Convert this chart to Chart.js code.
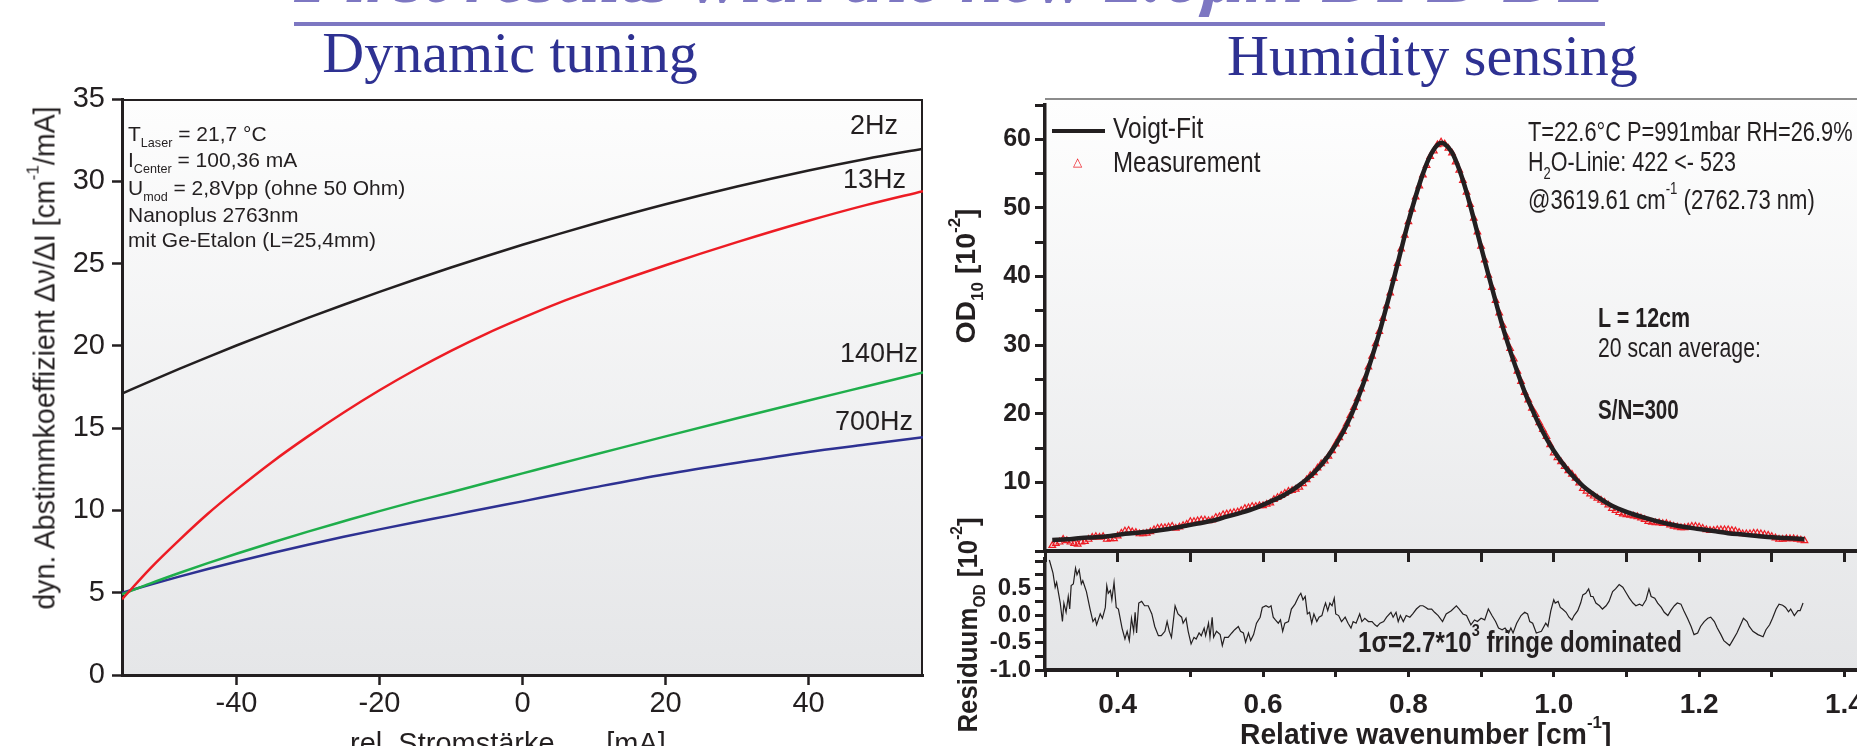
<!DOCTYPE html>
<html>
<head>
<meta charset="utf-8">
<script src="https://cdn.jsdelivr.net/npm/chart.js@4.4.1/dist/chart.umd.min.js"></script>
<style>
  html, body { margin: 0; padding: 0; background: #fff; }
  body { width: 1857px; height: 746px; overflow: hidden; position: relative;
         font-family: 'Liberation Sans', Arial, sans-serif; color: #231f20; }
  .a { position: absolute; white-space: nowrap; line-height: 1; }
  .sq { transform-origin: 0 0; }
  .s { font-family: 'Liberation Serif', 'Times New Roman', serif; }
  .b { font-weight: bold; }
  sup { font-size: 0.6em; vertical-align: 0.9em; line-height: 0; }
  sub { font-size: 0.6em; vertical-align: -0.5em; line-height: 0; }
  .bg { position: absolute; box-sizing: border-box; }
  canvas { position: absolute; }
</style>
</head>
<body>

<!-- plot backgrounds -->
<div class="bg" style="left:122px;top:99px;width:801px;height:576px;background:linear-gradient(#fdfdfd,#e5e6e8);border-top:2px solid #231f20;border-right:2px solid #231f20"></div>
<div class="bg" style="left:1045px;top:98px;width:812px;height:572px;background:linear-gradient(#fefefe,#e4e5e7);border-top:2px solid #8c8c8c"></div>

<canvas id="tuning" width="930" height="746" style="left:0;top:0"></canvas>
<canvas id="residual" width="1000" height="206" style="left:930px;top:540px"></canvas>
<canvas id="spectrum" width="1000" height="570" style="left:930px;top:0"></canvas>

<!-- slide titles -->
<div class="a s sq" data-w="1311" style="left:294px;top:-58px;font-size:72px;font-style:italic;font-weight:bold;color:#7d77c2">First results with the new 2.6µm DFB-DL</div>
<div style="position:absolute;left:294px;top:22px;width:1311px;height:4px;background:#7d77c2"></div>
<div class="a s" style="left:310px;width:400px;text-align:center;top:24px;font-size:58px;color:#2e3192">Dynamic tuning</div>
<div class="a s" style="left:1227px;width:400px;text-align:center;top:27px;font-size:58px;color:#2e3192">Humidity sensing</div>

<!-- left chart texts -->
<div class="a" style="left:128px;top:123px;font-size:21px">T<sub>Laser</sub> = 21,7 °C</div>
<div class="a" style="left:128px;top:149px;font-size:21px">I<sub>Center</sub> = 100,36 mA</div>
<div class="a" style="left:128px;top:177px;font-size:21px">U<sub>mod</sub> = 2,8Vpp (ohne 50 Ohm)</div>
<div class="a" style="left:128px;top:204px;font-size:21px">Nanoplus 2763nm</div>
<div class="a" style="left:128px;top:229px;font-size:21px">mit Ge-Etalon (L=25,4mm)</div>

<div class="a" style="left:850px;top:112px;font-size:27px">2Hz</div>
<div class="a" style="left:843px;top:166px;font-size:27px">13Hz</div>
<div class="a" style="left:840px;top:340px;font-size:27px">140Hz</div>
<div class="a" style="left:835px;top:408px;font-size:27px">700Hz</div>

<div class="a" data-w="503" data-pre="translate(-50%,-50%) rotate(-90deg)" style="left:45px;top:358px;font-size:29px">dyn. Abstimmkoeffizient Δν/ΔI [cm<sup>-1</sup>/mA]</div>
<div class="a" style="left:350px;top:729px;font-size:29px">rel. Stromstärke<sub>Laser</sub> [mA]</div>

<!-- right chart texts -->
<div style="position:absolute;left:1052px;top:129px;width:53px;height:4px;background:#231f20"></div>
<div class="a sq" data-w="90" style="left:1113px;top:114px;font-size:29px">Voigt-Fit</div>
<div class="a" style="left:1073px;top:156px;font-size:12px;color:#ed1c24">△</div>
<div class="a sq" data-w="147" style="left:1113px;top:148px;font-size:29px">Measurement</div>

<div class="a sq" data-w="325" style="left:1528px;top:118px;font-size:28px">T=22.6°C P=991mbar RH=26.9%</div>
<div class="a sq" data-w="208" style="left:1528px;top:148px;font-size:28px">H<sub>2</sub>O-Linie: 422 &lt;- 523</div>
<div class="a sq" data-w="287" style="left:1528px;top:186px;font-size:28px">@3619.61 cm<sup>-1</sup> (2762.73 nm)</div>
<div class="a sq b" data-w="92" style="left:1598px;top:304px;font-size:28px">L = 12cm</div>
<div class="a sq" data-w="163" style="left:1598px;top:334px;font-size:28px">20 scan average:</div>
<div class="a sq b" data-w="81" style="left:1598px;top:396px;font-size:28px">S/N=300</div>
<div class="a sq b" data-w="324" style="left:1358px;top:628px;font-size:29px">1σ=2.7*10<sup>3</sup> fringe dominated</div>

<div class="a b" data-w="135" data-pre="translate(-50%,-50%) rotate(-90deg)" style="left:966px;top:276px;font-size:28px">OD<sub>10</sub> [10<sup>-2</sup>]</div>
<div class="a b" data-w="215" data-pre="translate(-50%,-50%) rotate(-90deg)" style="left:968px;top:625px;font-size:28px">Residuum<sub>OD</sub> [10<sup>-2</sup>]</div>
<div class="a sq b" data-w="371" style="left:1240px;top:720px;font-size:29px">Relative wavenumber [cm<sup>-1</sup>]</div>

<script>
// ---- dynamic tuning (left) ----
const currentX = [-56, -52, -48, -44, -40, -35, -30, -25, -20, -15, -10, -5, 0, 5, 10, 20, 30, 40, 48, 56];
const tune2Hz   = [17.1, 17.86, 18.6, 19.32, 20.02, 20.87, 21.7, 22.5, 23.28, 24.03, 24.76, 25.46, 26.14, 26.79, 27.42, 28.6, 29.68, 30.66, 31.36, 31.98];
const tune13Hz  = [4.6, 6.5, 8.2, 9.8, 11.25, 12.95, 14.5, 15.95, 17.3, 18.55, 19.7, 20.75, 21.7, 22.6, 23.4, 24.9, 26.3, 27.6, 28.55, 29.4];
const tune140Hz = [4.9, 5.57, 6.2, 6.8, 7.37, 8.05, 8.71, 9.34, 9.96, 10.55, 11.1, 11.68, 12.25, 12.82, 13.38, 14.5, 15.6, 16.68, 17.53, 18.38];
const tune700Hz = [5.0, 5.5, 5.98, 6.44, 6.88, 7.41, 7.92, 8.4, 8.85, 9.28, 9.7, 10.13, 10.55, 10.98, 11.4, 12.2, 12.9, 13.55, 14.0, 14.45];

// ---- humidity spectrum (right) ----
const fitX = [0.31, 0.33, 0.35, 0.37, 0.39, 0.41, 0.43, 0.45, 0.47, 0.49, 0.51, 0.53, 0.55, 0.57, 0.59, 0.61, 0.63, 0.65, 0.67, 0.69,
  0.71, 0.72, 0.73, 0.74, 0.75, 0.76, 0.77, 0.78, 0.79, 0.80, 0.81, 0.82, 0.83, 0.84, 0.846, 0.85,
  0.86, 0.87, 0.88, 0.89, 0.90, 0.91, 0.92, 0.93, 0.94, 0.95, 0.96, 0.97, 0.98,
  1.00, 1.02, 1.04, 1.06, 1.08, 1.10, 1.12, 1.14, 1.16, 1.18, 1.20, 1.22, 1.24, 1.26, 1.28, 1.30, 1.32, 1.345];
const fitY = [1.6, 1.7, 1.9, 2.0, 2.2, 2.5, 2.7, 2.9, 3.2, 3.6, 4.0, 4.4, 5.0, 5.6, 6.3, 7.2, 8.2, 9.6, 11.4, 13.9,
  17.3, 19.5, 22.1, 25.0, 28.3, 31.8, 35.7, 39.7, 43.9, 48.0, 51.7, 55.0, 57.6, 59.2, 59.5, 59.3,
  58.1, 55.6, 52.3, 48.4, 44.3, 40.3, 36.4, 32.6, 29.2, 26.1, 23.2, 20.7, 18.4,
  14.6, 11.7, 9.5, 7.9, 6.6, 5.7, 5.0, 4.4, 3.9, 3.5, 3.2, 2.9, 2.6, 2.4, 2.2, 2.0, 1.9, 1.7];

const measX = [
  0.310, 0.315, 0.320, 0.325, 0.330, 0.335, 0.340, 0.345, 0.350, 0.355,
  0.360, 0.365, 0.370, 0.375, 0.380, 0.385, 0.390, 0.395, 0.400, 0.405,
  0.410, 0.415, 0.420, 0.425, 0.430, 0.435, 0.440, 0.445, 0.450, 0.455,
  0.460, 0.465, 0.470, 0.475, 0.480, 0.485, 0.490, 0.495, 0.500, 0.505,
  0.510, 0.515, 0.520, 0.525, 0.530, 0.535, 0.540, 0.545, 0.550, 0.555,
  0.560, 0.565, 0.570, 0.575, 0.580, 0.585, 0.590, 0.595, 0.600, 0.605,
  0.610, 0.615, 0.620, 0.625, 0.630, 0.635, 0.640, 0.645, 0.650, 0.655,
  0.660, 0.665, 0.670, 0.675, 0.680, 0.685, 0.690, 0.695, 0.700, 0.705,
  0.710, 0.715, 0.720, 0.725, 0.730, 0.735, 0.740, 0.745, 0.750, 0.755,
  0.760, 0.765, 0.770, 0.775, 0.780, 0.785, 0.790, 0.795, 0.800, 0.805,
  0.810, 0.815, 0.820, 0.825, 0.830, 0.835, 0.840, 0.845, 0.850, 0.855,
  0.860, 0.865, 0.870, 0.875, 0.880, 0.885, 0.890, 0.895, 0.900, 0.905,
  0.910, 0.915, 0.920, 0.925, 0.930, 0.935, 0.940, 0.945, 0.950, 0.955,
  0.960, 0.965, 0.970, 0.975, 0.980, 0.985, 0.990, 0.995, 1.000, 1.005,
  1.010, 1.015, 1.020, 1.025, 1.030, 1.035, 1.040, 1.045, 1.050, 1.055,
  1.060, 1.065, 1.070, 1.075, 1.080, 1.085, 1.090, 1.095, 1.100, 1.105,
  1.110, 1.115, 1.120, 1.125, 1.130, 1.135, 1.140, 1.145, 1.150, 1.155,
  1.160, 1.165, 1.170, 1.175, 1.180, 1.185, 1.190, 1.195, 1.200, 1.205,
  1.210, 1.215, 1.220, 1.225, 1.230, 1.235, 1.240, 1.245, 1.250, 1.255,
  1.260, 1.265, 1.270, 1.275, 1.280, 1.285, 1.290, 1.295, 1.300, 1.305,
  1.310, 1.315, 1.320, 1.325, 1.330, 1.335, 1.340, 1.345];
const measY = [
  0.8, 1.1, 1.3, 1.7, 1.5, 1.3, 1.1, 1.0, 1.3, 1.4,
  1.7, 2.0, 2.1, 2.0, 2.1, 1.7, 1.8, 1.8, 2.2, 2.6,
  2.9, 3.0, 2.8, 2.7, 2.5, 2.5, 2.6, 2.8, 3.1, 3.3,
  3.4, 3.4, 3.5, 3.6, 3.3, 3.5, 3.7, 3.9, 4.3, 4.3,
  4.4, 4.5, 4.5, 4.4, 4.5, 4.9, 5.0, 5.3, 5.4, 5.5,
  5.6, 5.7, 5.9, 6.2, 6.3, 6.5, 6.5, 6.6, 6.6, 6.8,
  7.0, 7.5, 7.8, 8.1, 8.4, 8.7, 8.8, 9.0, 9.3, 9.8,
  10.4, 11.0, 11.4, 12.1, 12.7, 13.1, 13.8, 14.6, 15.6, 16.5,
  17.4, 18.5, 19.7, 20.9, 22.2, 23.6, 25.1, 26.8, 28.4, 30.2,
  32.0, 33.9, 35.7, 37.6, 39.7, 41.9, 44.0, 46.0, 48.0, 49.8,
  51.6, 53.2, 54.8, 56.2, 57.5, 58.3, 59.2, 59.6, 59.3, 58.7,
  58.0, 56.7, 55.5, 54.0, 52.3, 50.5, 48.5, 46.5, 44.4, 42.4,
  40.2, 38.4, 36.5, 34.7, 32.9, 31.2, 29.5, 28.0, 26.2, 24.7,
  23.1, 22.0, 20.8, 19.9, 18.7, 17.7, 16.7, 15.5, 14.3, 13.6,
  13.0, 12.3, 11.7, 11.2, 10.6, 9.9, 9.1, 8.7, 8.3, 8.0,
  7.7, 7.4, 7.1, 6.7, 6.2, 5.9, 5.6, 5.4, 5.3, 5.2,
  5.1, 5.0, 4.8, 4.6, 4.3, 4.2, 4.1, 4.1, 4.0, 4.0,
  3.8, 3.6, 3.5, 3.4, 3.4, 3.5, 3.6, 3.6, 3.5, 3.3,
  3.1, 3.0, 3.0, 3.1, 3.1, 3.1, 3.1, 3.0, 2.9, 2.7,
  2.5, 2.5, 2.5, 2.6, 2.6, 2.5, 2.4, 2.3, 2.1, 1.9,
  1.7, 1.7, 1.8, 1.8, 1.8, 1.7, 1.6, 1.5];

const resX = [
  0.306, 0.311, 0.314, 0.316, 0.321, 0.324, 0.326, 0.329, 0.332, 0.334,
  0.336, 0.339, 0.342, 0.344, 0.347, 0.350, 0.352, 0.357, 0.362, 0.366,
  0.369, 0.371, 0.376, 0.379, 0.383, 0.385, 0.387, 0.390, 0.392, 0.395,
  0.398, 0.401, 0.406, 0.410, 0.413, 0.416, 0.419, 0.422, 0.424, 0.426,
  0.429, 0.433, 0.437, 0.442, 0.447, 0.451, 0.456, 0.460, 0.465, 0.468,
  0.471, 0.474, 0.479, 0.483, 0.488, 0.490, 0.494, 0.497, 0.501, 0.505,
  0.508, 0.512, 0.515, 0.519, 0.521, 0.525, 0.527, 0.530, 0.532, 0.536,
  0.541, 0.544, 0.547, 0.552, 0.557, 0.561, 0.566, 0.569, 0.573, 0.576,
  0.580, 0.583, 0.587, 0.591, 0.596, 0.599, 0.604, 0.608, 0.611, 0.614,
  0.617, 0.621, 0.624, 0.627, 0.630, 0.635, 0.639, 0.644, 0.649, 0.652,
  0.655, 0.658, 0.661, 0.664, 0.667, 0.670, 0.674, 0.677, 0.681, 0.684,
  0.686, 0.689, 0.692, 0.695, 0.698, 0.700, 0.704, 0.708, 0.713, 0.717,
  0.721, 0.724, 0.728, 0.733, 0.736, 0.740, 0.745, 0.750, 0.754, 0.757,
  0.761, 0.766, 0.770, 0.776, 0.779, 0.783, 0.786, 0.789, 0.793, 0.797,
  0.802, 0.806, 0.811, 0.816, 0.820, 0.824, 0.827, 0.832, 0.836, 0.841,
  0.847, 0.852, 0.859, 0.866, 0.870, 0.875, 0.880, 0.886, 0.891, 0.895,
  0.900, 0.905, 0.910, 0.915, 0.920, 0.924, 0.929, 0.933, 0.938, 0.941,
  0.944, 0.949, 0.955, 0.960, 0.964, 0.967, 0.971, 0.976, 0.983, 0.989,
  0.992, 0.996, 1.000, 1.002, 1.006, 1.009, 1.012, 1.017, 1.021, 1.025,
  1.028, 1.033, 1.037, 1.040, 1.044, 1.048, 1.051, 1.054, 1.058, 1.063,
  1.067, 1.072, 1.076, 1.081, 1.085, 1.090, 1.095, 1.100, 1.104, 1.109,
  1.113, 1.118, 1.122, 1.127, 1.131, 1.134, 1.139, 1.143, 1.148, 1.152,
  1.157, 1.161, 1.166, 1.170, 1.175, 1.179, 1.184, 1.189, 1.193, 1.198,
  1.202, 1.207, 1.212, 1.216, 1.221, 1.225, 1.230, 1.234, 1.242, 1.246,
  1.252, 1.258, 1.261, 1.266, 1.269, 1.274, 1.281, 1.288, 1.292, 1.297,
  1.301, 1.306, 1.310, 1.315, 1.319, 1.323, 1.326, 1.331, 1.336, 1.339,
  1.343];
const resY = [
  1.02, 0.78, 0.52, 0.61, 0.23, -0.11, 0.23, 0.06, 0.35, 0.12,
  0.55, 0.58, 0.87, 0.75, 0.84, 0.58, 0.64, 0.44, 0.12, -0.11,
  -0.05, -0.17, 0.03, -0.05, 0.15, 0.55, 0.41, 0.46, 0.29, 0.61,
  0.15, 0.12, -0.23, -0.43, -0.29, -0.46, -0.05, -0.29, 0.06, -0.32,
  0.23, 0.26, 0.18, 0.18, 0.03, -0.20, -0.37, -0.37, -0.29, -0.11,
  -0.29, -0.40, 0.18, 0.03, -0.03, -0.14, -0.05, -0.29, -0.52, -0.40,
  -0.43, -0.32, -0.37, -0.23, -0.37, -0.14, -0.40, -0.03, -0.40, -0.29,
  -0.35, -0.55, -0.40, -0.40, -0.32, -0.26, -0.20, -0.29, -0.32, -0.49,
  -0.32, -0.46, -0.35, -0.14, -0.03, 0.15, 0.18, 0.15, 0.18, -0.03,
  -0.08, -0.14, -0.08, -0.29, -0.14, -0.11, 0.12, 0.21, 0.35, 0.41,
  0.29, 0.35, 0.03, 0.06, -0.14, 0.03, -0.11, -0.03, 0.00, 0.15,
  0.23, 0.09, 0.23, 0.18, 0.32, 0.03, 0.00, -0.11, -0.03, -0.14,
  -0.23, -0.11, -0.14, 0.03, -0.11, -0.05, -0.11, -0.11, -0.17, -0.20,
  -0.14, -0.11, -0.03, 0.06, -0.03, 0.06, -0.11, 0.00, -0.11, 0.00,
  -0.03, 0.03, 0.12, 0.18, 0.18, 0.15, 0.12, 0.12, 0.06, 0.00,
  -0.11, 0.03, 0.09, 0.18, 0.12, 0.03, 0.00, -0.17, -0.08, -0.11,
  -0.05, -0.08, 0.12, 0.00, -0.11, -0.23, -0.26, -0.23, -0.32, -0.23,
  -0.32, -0.14, 0.00, 0.06, 0.03, -0.11, -0.14, -0.32, -0.29, -0.14,
  -0.20, 0.09, 0.29, 0.23, 0.26, 0.15, 0.12, 0.06, -0.03, -0.08,
  0.00, 0.09, 0.23, 0.38, 0.41, 0.49, 0.35, 0.35, 0.23, 0.18,
  0.12, 0.18, 0.26, 0.44, 0.49, 0.57, 0.52, 0.41, 0.32, 0.23,
  0.18, 0.21, 0.18, 0.29, 0.49, 0.35, 0.32, 0.23, 0.15, 0.06,
  0.00, 0.09, 0.18, 0.23, 0.21, 0.09, -0.05, -0.20, -0.35, -0.32,
  -0.20, -0.11, -0.05, -0.03, -0.11, -0.23, -0.35, -0.46, -0.55, -0.46,
  -0.32, -0.14, -0.05, -0.11, -0.20, -0.29, -0.35, -0.39, -0.26, -0.17,
  -0.05, 0.12, 0.21, 0.19, 0.15, 0.07, 0.12, 0.00, 0.09, 0.09,
  0.23];

const ink = '#231f20';
Chart.defaults.font.family = "'Liberation Sans', Arial, sans-serif";
Chart.defaults.color = ink;

function pts(xs, ys) {
  return xs.map((x, i) => ({ x: x, y: ys[i] }));
}

function curve(label, ys, color) {
  return {
    label: label,
    data: pts(currentX, ys),
    borderColor: color,
    borderWidth: 2.5,
    pointRadius: 0,
    cubicInterpolationMode: 'monotone',
    fill: false
  };
}

function tickGrid(len, w) {
  return { drawOnChartArea: false, drawTicks: true, tickLength: len, tickWidth: w, tickColor: ink };
}

const common = {
  responsive: false,
  animation: false,
  devicePixelRatio: 1,
  plugins: { legend: { display: false }, tooltip: { enabled: false } }
};

new Chart(document.getElementById('tuning'), {
  type: 'line',
  data: {
    datasets: [
      curve('2Hz', tune2Hz, ink),
      curve('13Hz', tune13Hz, '#ed1c24'),
      curve('140Hz', tune140Hz, '#1fae4b'),
      curve('700Hz', tune700Hz, '#2e3192')
    ]
  },
  options: Object.assign({}, common, {
    layout: { padding: { top: 99, right: 7, left: 0, bottom: 0 } },
    scales: {
      x: {
        type: 'linear', min: -56, max: 56,
        ticks: { stepSize: 20, includeBounds: false, padding: 2, maxRotation: 0, autoSkip: false, font: { size: 29 } },
        grid: tickGrid(10, 2.5),
        border: { color: ink, width: 3 },
        afterFit: function (s) { s.height = 71; }
      },
      y: {
        min: 0, max: 35,
        ticks: { stepSize: 5, padding: 7, autoSkip: false, font: { size: 29 } },
        grid: tickGrid(10, 2.5),
        border: { color: ink, width: 3 },
        afterFit: function (s) { s.width = 122; }
      }
    }
  })
});

new Chart(document.getElementById('residual'), {
  type: 'line',
  data: {
    datasets: [{
      label: 'Residuum',
      data: pts(resX, resY),
      borderColor: ink,
      borderWidth: 1.2,
      pointRadius: 0,
      tension: 0
    }]
  },
  options: Object.assign({}, common, {
    layout: { padding: { top: 11, right: 71, left: 0, bottom: 0 } },
    scales: {
      x: {
        type: 'linear', min: 0.3, max: 1.42,
        ticks: {
          stepSize: 0.1, includeBounds: false, padding: 11, maxRotation: 0, autoSkip: false,
          font: { size: 28, weight: 'bold' },
          callback: function (v) { const n = Math.round(v * 10); return n % 2 === 0 ? (n / 10).toFixed(1) : ''; }
        },
        grid: tickGrid(7, 3),
        border: { color: ink, width: 4 },
        afterFit: function (s) { s.height = 76; }
      },
      y: {
        min: -1, max: 1.05,
        ticks: {
          stepSize: 0.25, includeBounds: false, padding: 4, autoSkip: false,
          font: { size: 24, weight: 'bold' },
          callback: function (v) { const n = Math.round(v * 100); return (n % 50 === 0 && n < 100) ? (n / 100).toFixed(1) : ''; }
        },
        grid: tickGrid(10, 3),
        border: { color: ink, width: 3.5 },
        afterFit: function (s) { s.width = 115; }
      }
    }
  })
});

new Chart(document.getElementById('spectrum'), {
  type: 'line',
  data: {
    datasets: [
      {
        label: 'Voigt-Fit',
        data: pts(fitX, fitY),
        borderColor: ink,
        borderWidth: 4.5,
        pointRadius: 0,
        cubicInterpolationMode: 'monotone',
        order: 0
      },
      {
        label: 'Measurement',
        data: pts(measX, measY),
        showLine: false,
        pointStyle: 'triangle',
        pointRadius: 3.8,
        borderColor: '#ed1c24',
        backgroundColor: 'rgba(0,0,0,0)',
        pointBorderWidth: 1.2,
        order: 1
      }
    ]
  },
  options: Object.assign({}, common, {
    layout: { padding: { top: 105, right: 71, left: 0, bottom: 0 } },
    scales: {
      x: {
        type: 'linear', min: 0.3, max: 1.42,
        ticks: { stepSize: 0.1, includeBounds: false, display: false },
        grid: tickGrid(11, 3),
        border: { color: ink, width: 4 },
        afterFit: function (s) { s.height = 19; }
      },
      y: {
        min: 0, max: 65,
        ticks: {
          stepSize: 5, includeBounds: false, padding: 4, autoSkip: false,
          font: { size: 25, weight: 'bold' },
          callback: function (v) { return (v > 0 && v % 10 === 0) ? v : ''; }
        },
        grid: tickGrid(10, 3),
        border: { color: ink, width: 3.5 },
        afterFit: function (s) { s.width = 115; }
      }
    }
  })
});

// squeeze the condensed slide lettering to the widths it has in the picture
function squeeze() {
  document.querySelectorAll('[data-w]').forEach(function (el) {
    const pre = el.dataset.pre || '';
    el.style.transform = pre;
    const k = (+el.dataset.w) / el.offsetWidth;
    el.style.transform = pre + ' scaleX(' + k.toFixed(3) + ')';
  });
}
squeeze();
document.fonts.ready.then(squeeze);
</script>
</body>
</html>
